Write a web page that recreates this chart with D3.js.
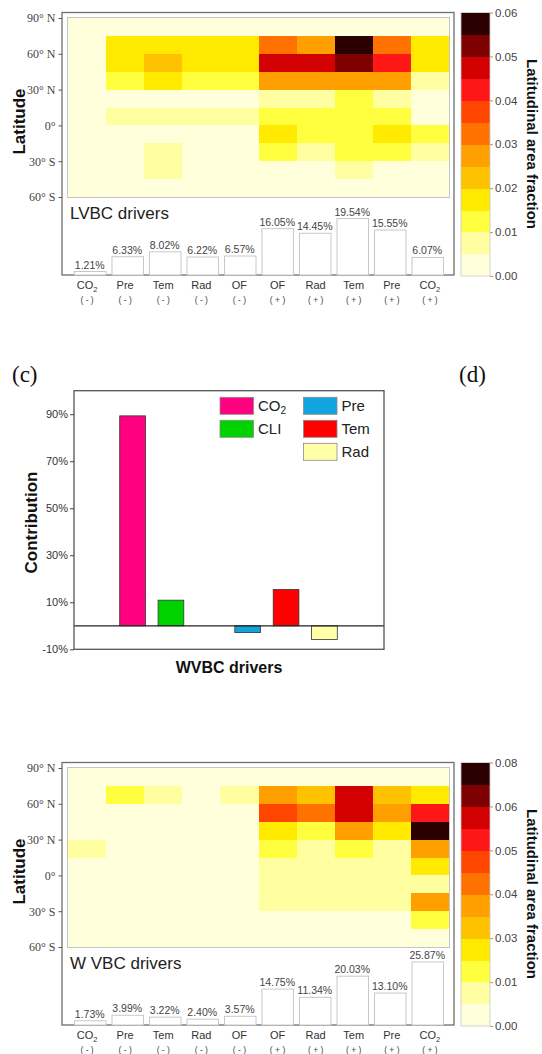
<!DOCTYPE html>
<html>
<head>
<meta charset="utf-8">
<script src="https://cdn.jsdelivr.net/npm/d3@7"></script>
<style>
  body { margin: 0; background: #fff; }
  svg { display: block; font-family: Arial, "Liberation Sans", sans-serif; }
</style>
</head>
<body>
<svg id="fig" width="542" height="1054"></svg>
<script>
// ---- drivers shared by the two latitudinal panels ----
const driverNames = ["CO2", "Pre", "Tem", "Rad", "OF", "OF", "Rad", "Tem", "Pre", "CO2"];
const driverSigns = ["-", "-", "-", "-", "-", "+", "+", "+", "+", "+"];

// northern edge of each 15° latitude band (rows of the heat maps)
const latBandNorth = [90, 75, 60, 45, 30, 15, 0, -15, -30, -45];
const latTicks = [90, 60, 30, 0, -30, -60];
const latTickLabels = ["90° N", "60° N", "30° N", "0°", "30° S", "60° S"];

// 12-step yellow -> dark brown palette
const heatColors = ["#ffffdc", "#ffffa2", "#ffff40", "#ffea00", "#ffc200", "#ffa000",
                    "#ff7200", "#ff4600", "#ff1616", "#d20000", "#7e0000", "#2a0000"];

// ---- LVBC ----
const lvbcEdges = [0, 0.005, 0.01, 0.015, 0.02, 0.025, 0.03, 0.035, 0.04, 0.045, 0.05, 0.055, 0.06];
const lvbcTicks = [0, 0.01, 0.02, 0.03, 0.04, 0.05, 0.06];
const lvbcShare = [1.21, 6.33, 8.02, 6.22, 6.57, 16.05, 14.45, 19.54, 15.55, 6.07];
const lvbcFraction = [
  [0.001, 0.001, 0.001, 0.001, 0.001, 0.001, 0.001, 0.001, 0.001, 0.001],
  [0.002, 0.017, 0.017, 0.017, 0.017, 0.032, 0.027, 0.058, 0.032, 0.017],
  [0.002, 0.017, 0.022, 0.017, 0.017, 0.047, 0.047, 0.052, 0.042, 0.017],
  [0.002, 0.012, 0.017, 0.012, 0.012, 0.027, 0.027, 0.027, 0.027, 0.007],
  [0.002, 0.003, 0.003, 0.003, 0.003, 0.007, 0.007, 0.012, 0.007, 0.002],
  [0.002, 0.007, 0.007, 0.007, 0.007, 0.012, 0.012, 0.012, 0.012, 0.003],
  [0.002, 0.003, 0.003, 0.003, 0.003, 0.017, 0.012, 0.012, 0.017, 0.012],
  [0.002, 0.003, 0.007, 0.003, 0.003, 0.012, 0.007, 0.012, 0.012, 0.007],
  [0.001, 0.002, 0.007, 0.002, 0.002, 0.003, 0.003, 0.007, 0.003, 0.003],
  [0.001, 0.001, 0.001, 0.001, 0.001, 0.001, 0.001, 0.001, 0.001, 0.001]
];

// ---- WVBC ----
const wvbcEdges = [0, 0.005, 0.01, 0.02, 0.03, 0.035, 0.04, 0.045, 0.05, 0.055, 0.06, 0.07, 0.08];
const wvbcTicks = [0, 0.01, 0.03, 0.04, 0.05, 0.06, 0.08];
const wvbcShare = [1.73, 3.99, 3.22, 2.40, 3.57, 14.75, 11.34, 20.03, 13.10, 25.87];
const wvbcFraction = [
  [0.002, 0.002, 0.002, 0.002, 0.002, 0.002, 0.002, 0.002, 0.002, 0.002],
  [0.002, 0.015, 0.007, 0.002, 0.007, 0.037, 0.032, 0.057, 0.032, 0.025],
  [0.002, 0.002, 0.002, 0.002, 0.002, 0.047, 0.042, 0.057, 0.037, 0.052],
  [0.002, 0.002, 0.002, 0.002, 0.002, 0.025, 0.015, 0.037, 0.025, 0.075],
  [0.007, 0.002, 0.002, 0.002, 0.002, 0.015, 0.007, 0.015, 0.007, 0.037],
  [0.002, 0.002, 0.002, 0.002, 0.002, 0.007, 0.007, 0.007, 0.007, 0.025],
  [0.002, 0.002, 0.002, 0.002, 0.002, 0.007, 0.007, 0.007, 0.007, 0.007],
  [0.002, 0.002, 0.002, 0.002, 0.002, 0.007, 0.007, 0.007, 0.007, 0.037],
  [0.002, 0.002, 0.002, 0.002, 0.002, 0.002, 0.002, 0.002, 0.002, 0.015],
  [0.002, 0.002, 0.002, 0.002, 0.002, 0.002, 0.002, 0.002, 0.002, 0.002]
];

// ---- WVBC contribution ----
const contribDrivers = ["CO2", "CLI", "Pre", "Tem", "Rad"];
const contribValues = [89.3, 10.9, -2.9, 15.4, -5.8];
const contribColors = ["#ff0080", "#00d200", "#12a4dc", "#ff0000", "#ffffa8"];
const contribTicks = [-10, 10, 30, 50, 70, 90];

const svg = d3.select("#fig");

// writes a label, rendering a trailing "2" of CO2 as subscript
function chemLabel(sel, name, subSize, dy) {
  if (name === "CO2") {
    sel.append("tspan").text("CO");
    sel.append("tspan").attr("font-size", subSize).attr("dy", dy).text("2");
  } else {
    sel.text(name);
  }
}

function heatPanel(g, fraction, share, edges, ticks, shareMax, title) {
  const keys = d3.range(driverNames.length);
  const x = d3.scaleBand().domain(keys).range([68, 449]);
  const xb = d3.scaleBand().domain(keys).range([68, 449]).padding(0.16);
  const yLat = d3.scaleLinear().domain([-60, 90]).range([197, 18]);
  const yBar = d3.scaleLinear().domain([0, shareMax]).range([275, 197]);
  const color = d3.scaleThreshold().domain(edges.slice(1, -1)).range(heatColors);

  // heat map background and border
  g.append("rect").attr("x", 67.5).attr("y", 17.5).attr("width", 382).attr("height", 180)
    .attr("fill", heatColors[0]).attr("stroke", "#c4c4c4").attr("stroke-width", 1);

  // heat map cells
  const cells = [];
  fraction.forEach((row, i) => row.forEach((v, j) => cells.push({ i, j, v })));
  g.append("g").attr("shape-rendering", "crispEdges")
    .selectAll("rect").data(cells).join("rect")
    .attr("x", d => x(d.j))
    .attr("y", d => yLat(latBandNorth[d.i]))
    .attr("width", x.bandwidth() + 0.4)
    .attr("height", d => yLat(latBandNorth[d.i] - 15) - yLat(latBandNorth[d.i]) + 0.4)
    .attr("fill", d => color(d.v));

  // outer frame
  g.append("rect").attr("x", 62).attr("y", 12.5).attr("width", 392).attr("height", 262.5)
    .attr("fill", "none").attr("stroke", "#6e6e6e").attr("stroke-width", 1.3);

  // latitude axis
  const ax = g.append("g").attr("transform", "translate(62,0)")
    .call(d3.axisLeft(yLat).tickValues(latTicks).tickSize(3.5).tickPadding(3)
      .tickFormat((d, i) => latTickLabels[i]));
  ax.select(".domain").remove();
  ax.selectAll("line").attr("stroke", "#555");
  ax.selectAll("text").attr("font-family", "'Liberation Serif', 'Times New Roman', serif")
    .attr("font-size", 12).attr("fill", "#444");

  g.append("text").attr("transform", "translate(25,121.5) rotate(-90)")
    .attr("text-anchor", "middle").attr("font-size", 17).attr("font-weight", "bold")
    .attr("fill", "#111").text("Latitude");

  // share of each driver
  g.append("text").attr("x", 70).attr("y", 219).attr("font-size", 17).attr("fill", "#222")
    .text(title);
  g.append("g").selectAll("rect").data(share).join("rect")
    .attr("x", (d, j) => xb(j) + 0.5)
    .attr("y", d => yBar(d))
    .attr("width", xb.bandwidth())
    .attr("height", d => 275 - yBar(d))
    .attr("fill", "#fff").attr("stroke", "#c8c8c8").attr("stroke-width", 1);
  g.append("g").selectAll("text").data(share).join("text")
    .attr("x", (d, j) => xb(j) + xb.bandwidth() / 2)
    .attr("y", d => yBar(d) - 3)
    .attr("text-anchor", "middle").attr("font-size", 10.5).attr("fill", "#444")
    .text(d => d3.format(".2f")(d) + "%");

  // driver labels
  keys.forEach(j => {
    const cx = x(j) + x.bandwidth() / 2;
    const t = g.append("text").attr("x", cx).attr("y", 289).attr("text-anchor", "middle")
      .attr("font-size", 11).attr("fill", "#333");
    chemLabel(t, driverNames[j], 7.5, 2.5);
    g.append("text").attr("x", cx).attr("y", 302.5).attr("text-anchor", "middle")
      .attr("font-size", 8.5).attr("fill", "#444").attr("xml:space", "preserve")
      .text("( " + driverSigns[j] + " )");
  });

  // colour bar
  const yC = d3.scaleLinear().domain(edges)
    .range(edges.map((d, i) => 276 - i * (263.5 / (edges.length - 1))));
  g.append("g").attr("shape-rendering", "crispEdges")
    .selectAll("rect").data(heatColors).join("rect")
    .attr("x", 461).attr("width", 29)
    .attr("y", (c, i) => yC(edges[i + 1]))
    .attr("height", (c, i) => yC(edges[i]) - yC(edges[i + 1]) + 0.4)
    .attr("fill", c => c);
  g.append("rect").attr("x", 461).attr("y", 12.5).attr("width", 29).attr("height", 263.5)
    .attr("fill", "none").attr("stroke", "#c8c8c8").attr("stroke-width", 0.8);
  const cax = g.append("g").attr("transform", "translate(490,0)")
    .call(d3.axisRight(yC).tickValues(ticks).tickSize(3).tickPadding(2)
      .tickFormat(d3.format(".2f")));
  cax.select(".domain").remove();
  cax.selectAll("line").attr("stroke", "#999");
  cax.selectAll("text").attr("font-size", 11.5).attr("fill", "#444")
    .attr("font-family", "Arial, 'Liberation Sans', sans-serif");

  g.append("text").attr("transform", "translate(527,144) rotate(90)")
    .attr("text-anchor", "middle").attr("font-size", 15).attr("font-weight", "bold")
    .attr("fill", "#111").text("Latitudinal area fraction");
}

heatPanel(svg.append("g"), lvbcFraction, lvbcShare, lvbcEdges, lvbcTicks, 27, "LVBC drivers");
heatPanel(svg.append("g").attr("transform", "translate(0,750)"),
  wvbcFraction, wvbcShare, wvbcEdges, wvbcTicks, 32, "W VBC drivers");

// ---- contribution panel ----
const serif = "'Liberation Serif', 'Times New Roman', serif";
svg.append("text").attr("x", 12).attr("y", 382).attr("font-family", serif)
  .attr("font-size", 23).attr("fill", "#111").text("(c)");
svg.append("text").attr("x", 459).attr("y", 382).attr("font-family", serif)
  .attr("font-size", 23).attr("fill", "#111").text("(d)");

const slots = ["lead", contribDrivers[0], contribDrivers[1], "gap",
               contribDrivers[2], contribDrivers[3], contribDrivers[4], "tail"];
const xc = d3.scaleBand().domain(slots).range([75, 382]).paddingInner(0.33).paddingOuter(0.165);
const yc = d3.scaleLinear().domain([-10, 100]).range([649.3, 390.7]);
const gc = svg.append("g");

gc.append("g").selectAll("rect").data(contribValues).join("rect")
  .attr("x", (d, i) => xc(contribDrivers[i]))
  .attr("y", d => yc(Math.max(0, d)))
  .attr("width", xc.bandwidth())
  .attr("height", d => Math.abs(yc(d) - yc(0)))
  .attr("fill", (d, i) => contribColors[i])
  .attr("stroke", "#333").attr("stroke-width", 0.8);

gc.append("line").attr("x1", 74).attr("x2", 384).attr("y1", yc(0)).attr("y2", yc(0))
  .attr("stroke", "#222").attr("stroke-width", 1.3);

gc.append("rect").attr("x", 74).attr("y", 390.7).attr("width", 310).attr("height", 258.6)
  .attr("fill", "none").attr("stroke", "#555").attr("stroke-width", 1.3);

const cy = gc.append("g").attr("transform", "translate(74,0)")
  .call(d3.axisLeft(yc).tickValues(contribTicks).tickSize(4).tickPadding(2)
    .tickFormat(d => d + "%"));
cy.select(".domain").remove();
cy.selectAll("line").attr("stroke", "#444");
cy.selectAll("text").attr("font-size", 11).attr("fill", "#333")
  .attr("font-family", "Arial, 'Liberation Sans', sans-serif");

gc.append("text").attr("transform", "translate(36.5,522.5) rotate(-90)")
  .attr("text-anchor", "middle").attr("font-size", 17).attr("font-weight", "bold")
  .attr("fill", "#111").text("Contribution");
gc.append("text").attr("x", 229).attr("y", 673).attr("text-anchor", "middle")
  .attr("font-size", 16).attr("font-weight", "bold").attr("fill", "#111").text("WVBC drivers");

// legend: two columns (CO2, CLI) and (Pre, Tem, Rad)
const legend = gc.append("g");
contribDrivers.forEach((name, i) => {
  const col = i < 2 ? 0 : 1;
  const row = i < 2 ? i : i - 2;
  const lx = 220 + col * 83.5;
  const ly = 397.3 + row * 23;
  legend.append("rect").attr("x", lx).attr("y", ly).attr("width", 33.5).attr("height", 17)
    .attr("fill", contribColors[i]).attr("stroke", "#8a8a8a").attr("stroke-width", 0.8);
  const t = legend.append("text").attr("x", lx + 38).attr("y", ly + 14)
    .attr("font-size", 15).attr("fill", "#222");
  chemLabel(t, name, 10, 3);
});
</script>
</body>
</html>
